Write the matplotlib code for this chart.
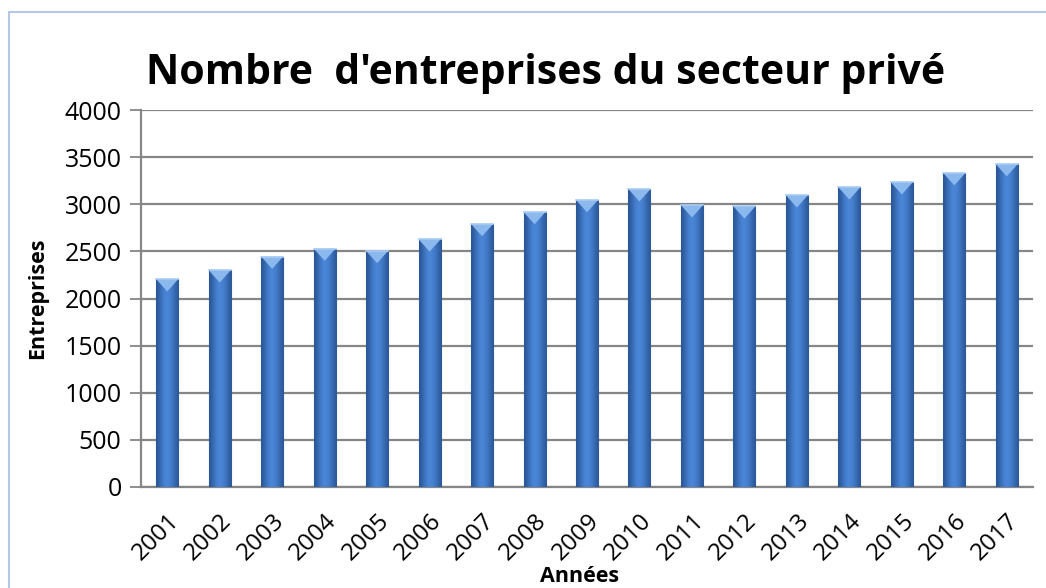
import numpy as np
import matplotlib as mpl
import matplotlib.pyplot as plt
from matplotlib.patches import Rectangle, Polygon

# data
annees = ['2001', '2002', '2003', '2004', '2005', '2006', '2007', '2008', '2009',
          '2010', '2011', '2012', '2013', '2014', '2015', '2016', '2017']
entreprises = [2205, 2300, 2445, 2530, 2505, 2628, 2790, 2918, 3045,
               3160, 2990, 2978, 3096, 3180, 3234, 3330, 3426]
yticks = [0, 500, 1000, 1500, 2000, 2500, 3000, 3500, 4000]

mpl.rcParams['font.family'] = ['Open Sans', 'DejaVu Sans']

fig = plt.figure(figsize=(10.46, 5.88), dpi=100)
ax = fig.add_axes([141/1046, 1-487/588, 892/1046, 377/588])

# light blue outer frame of the chart
fig.patches.append(Rectangle((9/1046, -0.1), 1.2, 1-12/588+0.1, transform=fig.transFigure,
                             fill=False, edgecolor='#b4c8e6', lw=1.5))

x = np.arange(len(annees))
w = 0.42
bars = ax.bar(x, entreprises, width=w, color='#3b6fc1', edgecolor='#2a5290', lw=0.8, zorder=3)

# cylinder like shading over each bar
grad = np.array([0.0, 0.3, 0.6, 0.8, 0.85, 0.75, 0.55, 0.3, 0.05])
cmap = mpl.colors.LinearSegmentedColormap.from_list('b', ['#2b5797', '#4a86d8'])
for b in bars:
    im = ax.imshow(grad[None, :], cmap=cmap, aspect='auto', zorder=3.5, interpolation='bicubic',
                   extent=(b.get_x(), b.get_x()+b.get_width(), 0, b.get_height()))
    im.set_clip_path(b)
    # light bevel cap on top
    h = b.get_height()
    x0, x1 = b.get_x(), b.get_x()+b.get_width()
    ax.add_patch(Polygon([(x0, h), (x1, h), ((x0+x1)/2, h-130)], closed=True,
                         facecolor='#8bb9ee', edgecolor='none', zorder=4))
    ax.plot([x0, x1], [h, h], color='#a9cdf5', lw=1.2, zorder=4.5)

ax.set_xlim(-0.5, len(annees)-0.5)
ax.set_ylim(0, 4000)
ax.set_yticks(yticks)
ax.set_xticks(x)
ax.set_xticklabels(annees, rotation=45, ha='right', rotation_mode='anchor')
ax.tick_params(axis='y', labelsize=18, length=8, width=1.3, color='#868686', pad=6)
ax.tick_params(axis='x', labelsize=17.5, length=0, pad=16)
ax.yaxis.grid(True, color='#868686', lw=1.6, zorder=0)
ax.set_axisbelow(True)
for s in ['top', 'right']:
    ax.spines[s].set_visible(False)
for s in ['left', 'bottom']:
    ax.spines[s].set_color('#868686')
    ax.spines[s].set_linewidth(1.6)

ax.set_ylabel('Entreprises', fontsize=15.5, fontweight='bold', labelpad=12)
fig.text(580/1046, 1-576/588, 'Années', fontsize=15.5, fontweight='bold', ha='center', va='center')
fig.text(546/1046, 1-73/588, "Nombre  d'entreprises du secteur privé", fontsize=29.5,
         fontweight='bold', ha='center', va='center')

plt.savefig('out.png', dpi=100)
